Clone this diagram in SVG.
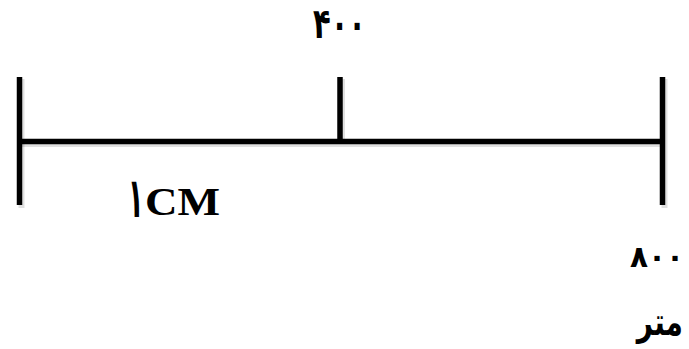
<svg xmlns="http://www.w3.org/2000/svg" width="689" height="349" viewBox="0 0 689 349">
<style>
.ln{stroke:#000;stroke-width:5.5;fill:none;stroke-linecap:butt}
.sh{stroke:#000;stroke-opacity:0.12;stroke-width:6;fill:none}
.t{font-family:"Liberation Serif","DejaVu Sans","Noto Sans",serif;font-weight:bold;fill:#000}
</style>
<rect width="689" height="349" fill="#fff"/>
<g id="connectors">
<g id="shadow">
<line class="sh" x1="21.5" y1="79" x2="21.5" y2="208"/>
<line class="sh" x1="342" y1="79" x2="342" y2="144"/>
<line class="sh" x1="664.5" y1="79" x2="664.5" y2="208"/>
<line class="sh" x1="22" y1="144" x2="664" y2="144"/>
</g>
<line class="ln" x1="19.5" y1="77" x2="19.5" y2="205"/>
<line class="ln" x1="340" y1="77" x2="340" y2="141.5"/>
<line class="ln" x1="662.5" y1="77" x2="662.5" y2="205"/>
<line class="ln" x1="19.5" y1="141.5" x2="662.5" y2="141.5"/>
</g>
<g id="label400"><text class="t" x="313" y="38" font-size="42" textLength="53" lengthAdjust="spacingAndGlyphs">۴۰۰</text></g>
<g id="label1cm"><text class="t" font-size="30" transform="translate(128,217) scale(0.85,1.85)">۱</text><text class="t" x="145" y="215" font-size="39" textLength="75" lengthAdjust="spacingAndGlyphs">CM</text></g>
<g id="label800"><text class="t" x="630" y="267" font-size="30" textLength="54" lengthAdjust="spacingAndGlyphs">۸۰۰</text></g>
<g id="labelmetr"><text class="t" font-size="36" text-anchor="end" transform="translate(683,335) scale(0.78,1.05)">متر</text></g>
</svg>
